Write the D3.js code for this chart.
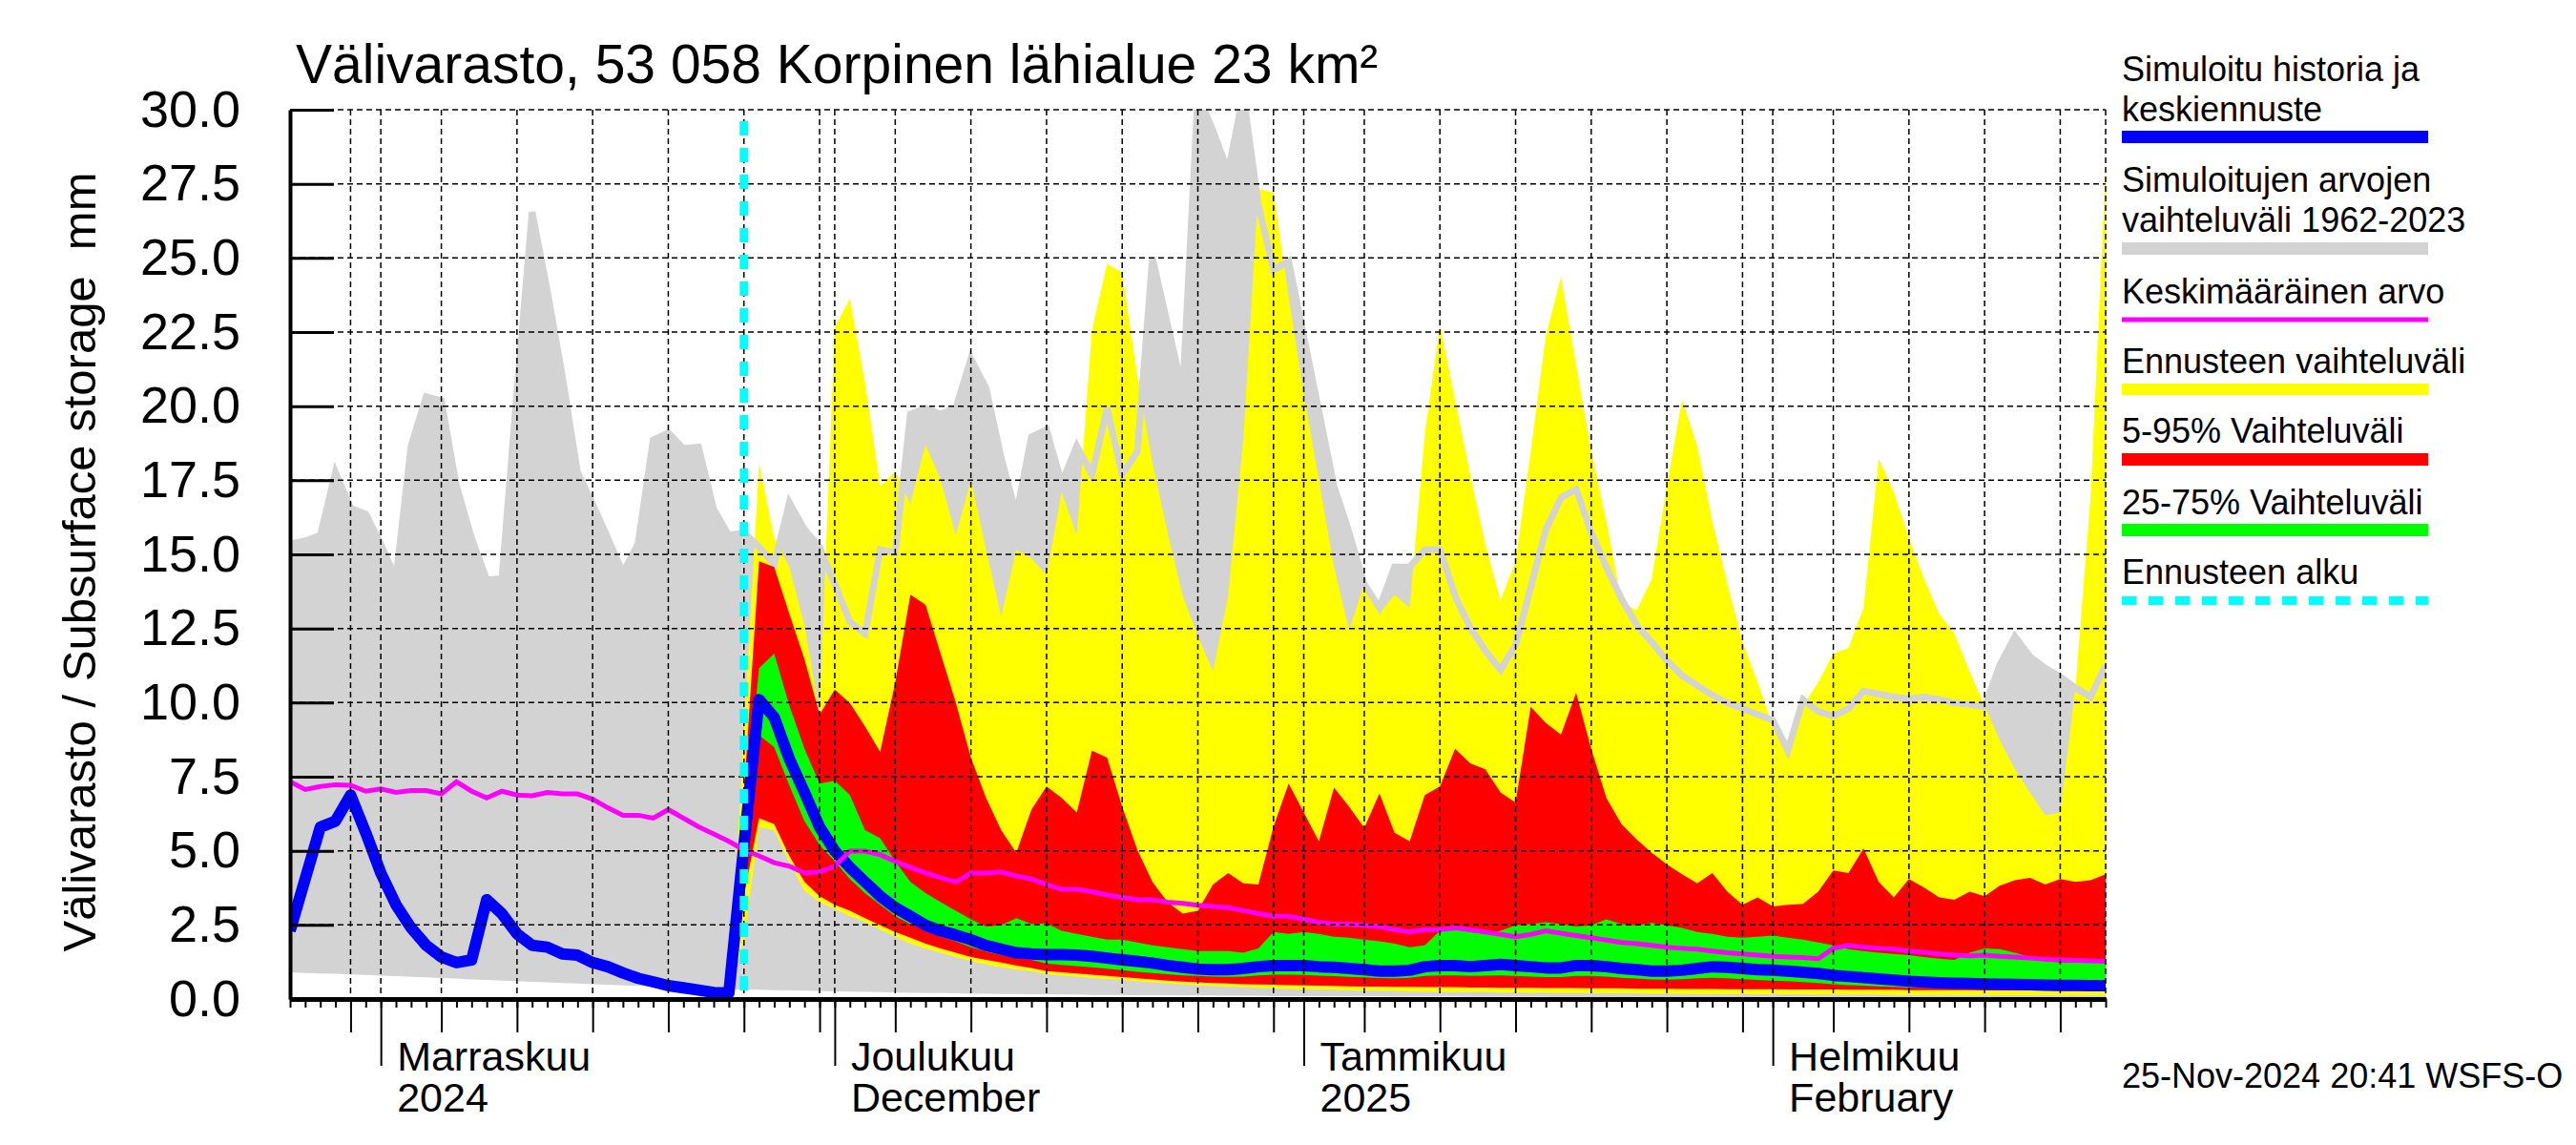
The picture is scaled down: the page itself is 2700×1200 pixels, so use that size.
<!DOCTYPE html>
<html>
<head>
<meta charset="utf-8">
<script src="https://cdn.jsdelivr.net/npm/d3@7"></script>
<style>
body { margin: 0; background: #fff; }
text { font-family: "Liberation Sans", Arial, Helvetica, sans-serif; fill: #000; }
</style>
</head>
<body>
<div class="chart"></div>
<script>
// daily values, first day 2024-10-26
let greyMax = [15.35,15.45,15.64,17.77,16.56,16.36,15.35,14.18,18.66,20.32,
  20.18,17.3,15.55,14.14,14.18,20.5,26.55,23.9,21.0,17.77,
  16.7,15.55,14.38,15.35,18.86,19.1,18.57,18.62,16.52,15.64,
  15.74,15.25,14.67,16.75,15.84,15.25,14.0,12.72,12.33,15.16,
  15.06,19.73,19.93,19.73,19.93,21.59,20.61,18.27,16.33,18.96,
  19.2,17.4,18.66,17.69,19.93,17.69,18.47,25.0,22.75,20.51,
  30.5,29.3,27.9,30.5,26.8,24.6,24.9,22.36,19.83,17.3,
  15.74,13.99,13.2,14.57,14.57,15.16,15.16,13.6,12.53,11.75,
  11.1,11.94,13.89,15.84,16.91,17.2,15.74,14.57,13.5,12.62,
  12.04,11.42,10.91,10.58,10.25,9.99,9.8,9.6,9.4,8.4,
  10.1,9.7,9.55,9.8,10.39,10.29,10.19,10.13,10.19,10.1,
  9.99,9.94,9.86,11.26,12.23,11.55,11.16,10.87,10.5,10.19,
  11.26];

let greyMin = [0.90,0.88,0.86,0.85,0.83,0.81,0.79,0.77,0.75,0.73,
  0.71,0.69,0.66,0.64,0.62,0.60,0.58,0.56,0.54,0.52,
  0.50,0.48,0.46,0.44,0.42,0.40,0.38,0.36,0.34,0.33,
  0.32,0.31,0.30,0.29,0.28,0.27,0.26,0.25,0.24,0.23,
  0.22,0.21,0.20,0.20,0.19,0.18,0.18,0.17,0.17,0.16,
  0.16,0.15,0.15,0.14,0.14,0.14,0.13,0.13,0.13,0.12,
  0.12,0.12,0.11,0.11,0.11,0.10,0.10,0.10,0.10,0.09,
  0.09,0.09,0.09,0.08,0.08,0.08,0.08,0.08,0.07,0.07,
  0.07,0.07,0.07,0.07,0.06,0.06,0.06,0.06,0.06,0.06,
  0.06,0.06,0.05,0.05,0.05,0.05,0.05,0.05,0.05,0.05,
  0.05,0.05,0.05,0.05,0.05,0.04,0.04,0.04,0.04,0.04,
  0.04,0.04,0.04,0.04,0.04,0.04,0.04,0.04,0.04,0.04,
  0.04];

let simulated = [2.3,4.05,5.8,6.0,6.88,5.61,4.25,3.18,2.4,1.81,
  1.42,1.23,1.32,3.35,2.88,2.2,1.81,1.75,1.52,1.48,
  1.23,1.09,0.88,0.7,0.58,0.45,0.38,0.3,0.22,0.2,
  5.2,10.1,9.5,8.1,6.97,5.8,5.0,4.44,3.95,3.47,
  3.08,2.79,2.49,2.3,2.16,2.0,1.81,1.68,1.56,1.52,
  1.5,1.5,1.48,1.44,1.38,1.32,1.27,1.21,1.13,1.07,
  1.01,0.99,0.99,1.03,1.09,1.13,1.13,1.13,1.09,1.07,
  1.03,0.99,0.94,0.94,0.97,1.09,1.13,1.13,1.09,1.13,
  1.17,1.13,1.09,1.05,1.05,1.13,1.13,1.09,1.03,0.99,
  0.94,0.94,0.97,1.03,1.09,1.07,1.03,0.99,0.97,0.94,
  0.9,0.86,0.8,0.76,0.72,0.68,0.64,0.6,0.57,0.55,
  0.53,0.52,0.51,0.5,0.49,0.48,0.47,0.46,0.46,0.45,
  0.45];

let meanValue = [7.33,7.07,7.17,7.23,7.21,7.01,7.09,6.97,7.03,7.03,
  6.92,7.33,7.01,6.78,7.01,6.88,6.86,6.97,6.92,6.92,
  6.74,6.45,6.2,6.2,6.1,6.39,6.1,5.81,5.57,5.32,
  5.03,4.83,4.6,4.48,4.25,4.29,4.48,4.99,4.99,4.87,
  4.64,4.44,4.25,4.09,3.95,4.25,4.25,4.29,4.15,4.05,
  3.86,3.7,3.7,3.62,3.51,3.43,3.35,3.35,3.27,3.23,
  3.16,3.12,3.08,2.98,2.88,2.79,2.79,2.69,2.59,2.53,
  2.53,2.49,2.44,2.34,2.26,2.34,2.34,2.4,2.34,2.26,
  2.18,2.1,2.18,2.3,2.22,2.14,2.07,1.99,1.91,1.87,
  1.81,1.75,1.71,1.68,1.62,1.56,1.52,1.48,1.44,1.42,
  1.4,1.36,1.71,1.81,1.75,1.71,1.68,1.62,1.58,1.52,
  1.48,1.46,1.48,1.44,1.42,1.38,1.34,1.32,1.3,1.29,
  1.27];

// forecast bands, first value on day index 29 (2024-11-24)
let bandStart = 29;
let yellowMax = [0.2,9.0,18.08,15.55,14.57,12.6,9.6,22.66,23.63,20.8,
  17.3,17.8,16.7,18.7,17.5,15.64,17.5,15.16,12.9,15.16,
  14.86,14.3,17.1,15.64,22.56,24.8,24.5,21.0,18.08,15.74,
  13.6,12.23,11.06,13.6,18.86,27.33,27.2,23.7,20.4,17.5,
  14.57,12.43,14.0,13.0,13.64,13.2,19.05,22.75,20.2,17.69,
  15.35,13.44,14.77,18.47,22.36,24.35,21.4,18.47,16.13,13.4,
  13.11,14.18,17.3,20.22,18.66,16.13,14.0,12.04,10.68,9.2,
  8.1,9.9,10.68,11.65,11.84,13.2,18.23,17.1,15.55,14.18,
  13.0,12.33,11.06,9.9,8.73,7.75,6.97,6.2,6.29,10.48,
  16.9,28.0];
let yellowMin = [0.2,2.0,5.8,5.7,4.6,3.66,3.27,3.04,2.79,2.6,
  2.34,2.1,1.87,1.71,1.56,1.42,1.29,1.17,1.07,1.0,
  0.94,0.84,0.8,0.76,0.72,0.68,0.64,0.6,0.56,0.53,
  0.5,0.47,0.44,0.42,0.4,0.38,0.36,0.34,0.33,0.32,
  0.31,0.3,0.29,0.28,0.27,0.26,0.25,0.24,0.24,0.23,
  0.23,0.22,0.22,0.21,0.21,0.2,0.2,0.2,0.19,0.19,
  0.19,0.18,0.18,0.18,0.17,0.17,0.17,0.17,0.16,0.16,
  0.16,0.16,0.15,0.15,0.15,0.15,0.15,0.14,0.14,0.14,
  0.14,0.14,0.13,0.13,0.13,0.13,0.13,0.13,0.12,0.12,
  0.12,0.12];
let redMax = [0.2,7.0,14.77,14.57,13.0,11.46,9.6,10.44,9.99,9.2,
  8.34,10.68,13.64,13.3,11.65,10.0,8.14,6.78,5.7,4.93,
  6.39,7.17,6.78,6.29,8.38,8.14,6.49,5.03,3.95,3.27,
  2.88,2.98,3.86,4.25,3.9,3.86,5.81,7.27,6.29,5.32,
  7.13,6.49,5.77,6.94,5.61,5.32,6.88,7.17,8.44,7.95,
  7.75,6.97,6.62,9.86,9.31,8.92,10.33,8.44,6.78,5.9,
  5.38,4.93,4.54,4.21,3.9,4.25,3.62,3.18,3.43,3.12,
  3.18,3.21,3.62,4.34,4.25,5.08,3.95,3.43,4.05,3.76,
  3.43,3.35,3.62,3.47,3.82,4.01,4.09,3.86,4.05,3.95,
  4.01,4.21];
let redMin = [0.2,3.5,6.1,5.9,4.83,3.95,3.47,3.18,2.98,2.73,
  2.49,2.26,2.07,1.87,1.71,1.56,1.42,1.32,1.23,1.13,
  1.05,0.94,0.9,0.86,0.82,0.78,0.74,0.7,0.66,0.62,
  0.59,0.56,0.54,0.52,0.5,0.49,0.48,0.47,0.46,0.45,
  0.44,0.43,0.42,0.42,0.41,0.41,0.4,0.4,0.4,0.39,
  0.39,0.38,0.38,0.38,0.37,0.37,0.37,0.36,0.36,0.36,
  0.35,0.35,0.35,0.34,0.34,0.34,0.33,0.33,0.33,0.33,
  0.32,0.32,0.32,0.32,0.31,0.31,0.31,0.31,0.3,0.3,
  0.3,0.3,0.3,0.29,0.29,0.29,0.29,0.29,0.28,0.28,
  0.28,0.28];
let greenMax = [0.2,6.0,11.16,11.65,9.9,8.44,7.27,7.36,6.88,5.7,
  5.42,4.64,3.95,3.57,3.27,2.98,2.69,2.45,2.49,2.73,
  2.53,2.55,2.3,2.2,2.1,2.0,2.0,1.91,1.81,1.75,
  1.68,1.62,1.62,1.62,1.56,1.71,2.26,2.2,2.26,2.2,
  2.1,2.07,2.0,1.95,1.87,1.75,1.81,2.3,2.34,2.26,
  2.2,2.3,2.49,2.53,2.59,2.53,2.45,2.49,2.69,2.53,
  2.49,2.57,2.49,2.4,2.26,2.2,2.1,2.07,2.1,2.14,
  2.07,2.0,1.91,1.81,1.68,1.62,1.56,1.52,1.48,1.42,
  1.36,1.32,1.56,1.71,1.68,1.56,1.42,1.29,1.23,1.23,
  1.23,1.23];
let greenMin = [0.2,4.5,8.9,8.5,7.2,6.0,5.2,4.64,4.05,3.57,
  3.18,2.79,2.53,2.34,2.1,1.95,1.75,1.6,1.48,1.4,
  1.32,1.2,1.15,1.11,1.07,1.02,0.97,0.92,0.88,0.84,
  0.8,0.78,0.76,0.75,0.76,0.8,0.82,0.82,0.81,0.79,
  0.77,0.75,0.73,0.71,0.7,0.72,0.78,0.8,0.8,0.78,
  0.79,0.8,0.78,0.76,0.74,0.74,0.78,0.78,0.76,0.72,
  0.69,0.66,0.65,0.67,0.7,0.72,0.7,0.67,0.64,0.62,
  0.6,0.57,0.54,0.5,0.47,0.45,0.43,0.41,0.39,0.38,
  0.37,0.36,0.36,0.35,0.35,0.34,0.34,0.33,0.33,0.33,
  0.32,0.32];

let yTicks = [0, 2.5, 5, 7.5, 10, 12.5, 15, 17.5, 20, 22.5, 25, 27.5, 30];
let monthNames = ["Marraskuu", "Joulukuu", "Tammikuu", "Helmikuu"];
let monthSub = ["2024", "December", "2025", "February"];
let legendLabels = [
  ["Simuloitu historia ja", "keskiennuste"],
  ["Simuloitujen arvojen", "vaihteluväli 1962-2023"],
  ["Keskimääräinen arvo"],
  ["Ennusteen vaihteluväli"],
  ["5-95% Vaihteluväli"],
  ["25-75% Vaihteluväli"],
  ["Ennusteen alku"]
];

let svgWidth = 2700;
let svgHeight = 1200;
let plot = {left: 304, right: 2207, top: 115, bottom: 1047};

let startDate = new Date(Date.UTC(2024, 9, 26));
let endDate = d3.utcDay.offset(startDate, 120);
let forecastStart = new Date(Date.UTC(2024, 10, 25));
let days = greyMax.map((d, i) => d3.utcDay.offset(startDate, i));
let bandDays = days.slice(bandStart);

let x = d3.scaleUtc().domain([startDate, endDate]).range([plot.left, plot.right]);
let y = d3.scaleLinear().domain([0, 30]).range([plot.bottom, plot.top]);

let svg = d3.select(".chart")
  .append("svg")
  .attr("width", svgWidth)
  .attr("height", svgHeight);

svg.append("defs").append("clipPath")
  .attr("id", "plotClip")
  .append("rect")
  .attr("x", plot.left)
  .attr("y", plot.top)
  .attr("width", plot.right - plot.left)
  .attr("height", plot.bottom - plot.top);

let marks = svg.append("g").attr("clip-path", "url(#plotClip)");

function band(dates, lo, hi) {
  return d3.area()
    .x((d, i) => x(dates[i]))
    .y0((d, i) => y(lo[i]))
    .y1((d, i) => y(hi[i]))(hi);
}

function line(dates, vals) {
  return d3.line()
    .x((d, i) => x(dates[i]))
    .y(d => y(d))(vals);
}

marks.append("path").attr("d", band(days, greyMin, greyMax)).attr("fill", "#d3d3d3");
marks.append("path").attr("d", band(bandDays, yellowMin, yellowMax)).attr("fill", "#ffff00");
marks.append("path").attr("d", line(days, greyMax))
  .attr("fill", "none").attr("stroke", "#d3d3d3").attr("stroke-width", 7);
marks.append("path").attr("d", band(bandDays, redMin, redMax)).attr("fill", "#ff0000");
marks.append("path").attr("d", band(bandDays, greenMin, greenMax)).attr("fill", "#00ff00");

// grid
let gridDays = days.filter(d => d.getUTCDate() % 5 === 0 || d.getUTCDate() === 1);
let grid = svg.append("g")
  .attr("stroke", "#000")
  .attr("stroke-width", 1.5)
  .attr("stroke-dasharray", "6,4");

grid.selectAll(".hgrid")
  .data(yTicks.slice(1))
  .enter()
  .append("line")
  .attr("x1", plot.left)
  .attr("x2", plot.right)
  .attr("y1", d => y(d))
  .attr("y2", d => y(d));

grid.selectAll(".vgrid")
  .data(gridDays.concat([endDate]))
  .enter()
  .append("line")
  .attr("x1", d => x(d))
  .attr("x2", d => x(d))
  .attr("y1", plot.top)
  .attr("y2", plot.bottom);

marks.append("path").attr("d", line(days, simulated))
  .attr("fill", "none").attr("stroke", "#0000ff").attr("stroke-width", 12)
  .attr("stroke-linejoin", "round");
marks.append("path").attr("d", line(days, meanValue))
  .attr("fill", "none").attr("stroke", "#ff00ff").attr("stroke-width", 5);

svg.append("line")
  .attr("x1", x(forecastStart))
  .attr("x2", x(forecastStart))
  .attr("y1", plot.top + 12)
  .attr("y2", plot.bottom)
  .attr("stroke", "#00ffff")
  .attr("stroke-width", 9)
  .attr("stroke-dasharray", "15,13");

// axes
let yAxis = d3.axisLeft(y)
  .tickValues(yTicks)
  .tickSizeInner(-46)
  .tickSizeOuter(0)
  .tickPadding(52)
  .tickFormat(d3.format(".1f"));

let yAxisG = svg.append("g")
  .attr("transform", `translate(${plot.left}, 0)`)
  .call(yAxis)
  .attr("font-size", null)
  .attr("font-family", null);
yAxisG.select(".domain").attr("stroke-width", 4);
yAxisG.selectAll(".tick line").attr("stroke-width", 3);
yAxisG.selectAll("text").style("font-size", "54px");

let dayAxis = d3.axisBottom(x).ticks(d3.utcDay.every(1)).tickSize(9).tickSizeOuter(0).tickFormat("");
let fiveAxis = d3.axisBottom(x).tickValues(days.filter(d => d.getUTCDate() % 5 === 0)).tickSize(35).tickFormat("");
let monthAxis = d3.axisBottom(x).ticks(d3.utcMonth.every(1)).tickSize(70).tickFormat("");

let xAxisG = svg.append("g").attr("transform", `translate(0, ${plot.bottom})`);
xAxisG.append("g").call(fiveAxis).select(".domain").remove();
xAxisG.append("g").call(monthAxis).select(".domain").remove();
let dayG = xAxisG.append("g").call(dayAxis);
dayG.select(".domain").attr("stroke-width", 5);
xAxisG.selectAll(".tick line").attr("stroke-width", 2);

let monthDates = x.ticks(d3.utcMonth.every(1));
let monthLabels = svg.append("g").style("font-size", "43px");
monthDates.forEach((d, i) => {
  monthLabels.append("text").attr("x", x(d) + 17).attr("y", 1122).text(monthNames[i]);
  monthLabels.append("text").attr("x", x(d) + 17).attr("y", 1165).text(monthSub[i]);
});

// titles
svg.append("text")
  .attr("x", 310)
  .attr("y", 87)
  .style("font-size", "57px")
  .text("Välivarasto, 53 058 Korpinen lähialue 23 km²");

svg.append("text")
  .attr("transform", "translate(100, 589) rotate(-90)")
  .attr("text-anchor", "middle")
  .style("font-size", "49px")
  .style("white-space", "pre")
  .text("Välivarasto / Subsurface storage  mm");

svg.append("text")
  .attr("x", 2224)
  .attr("y", 1140)
  .style("font-size", "36px")
  .text("25-Nov-2024 20:41 WSFS-O");

// legend
let legendColors = ["#0000ff", "#d3d3d3", "#ff00ff", "#ffff00", "#ff0000", "#00ff00", "#00ffff"];
let legendBarY = [143.5, 260.5, 335, 408, 481.5, 555.5, 629.5];
let legendBarW = [13, 13, 5, 12, 13, 13, 9];
let legendTextY = [[85, 127], [201, 243], [318], [391], [464], [539], [612]];

let legend = svg.append("g").style("font-size", "36px");
legendLabels.forEach((lines, i) => {
  lines.forEach((t, j) => {
    legend.append("text").attr("x", 2224).attr("y", legendTextY[i][j]).text(t);
  });
  legend.append("line")
    .attr("x1", 2224)
    .attr("x2", 2545)
    .attr("y1", legendBarY[i])
    .attr("y2", legendBarY[i])
    .attr("stroke", legendColors[i])
    .attr("stroke-width", legendBarW[i])
    .attr("stroke-dasharray", i === 6 ? "15,13" : null);
});
</script>
</body>
</html>
